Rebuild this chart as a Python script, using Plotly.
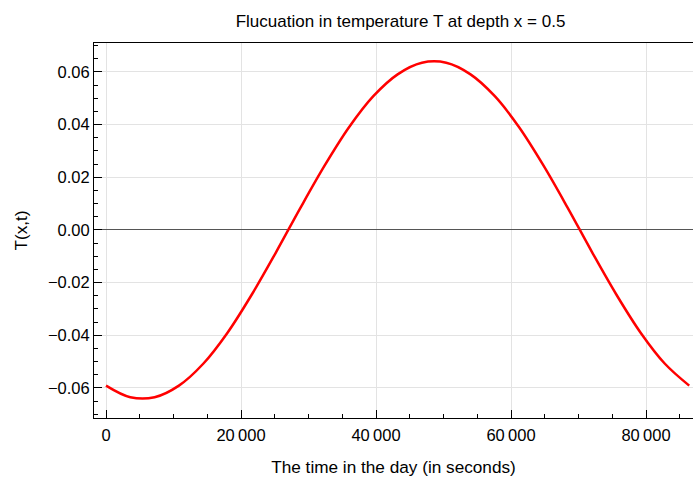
import plotly.graph_objects as go

# time (s) and temperature values
time_s = [0, 3600, 7200, 10800, 14400, 18000, 21600, 25200, 28800, 32400, 36000, 39600,
          43200, 46800, 50400, 54000, 57600, 61200, 64800, 68400, 72000, 75600, 79200,
          82800, 86400]
temp = [-0.0591, -0.0635, -0.0635, -0.0591, -0.0508, -0.0390, -0.0245, -0.0084, 0.0084,
        0.0245, 0.0390, 0.0508, 0.0591, 0.0635, 0.0635, 0.0591, 0.0508, 0.0390, 0.0245,
        0.0084, -0.0084, -0.0245, -0.0390, -0.0508, -0.0591]

x_tickvals = [0, 20000, 40000, 60000, 80000]
x_ticktext = ["0", "20\u2009000", "40\u2009000", "60\u2009000", "80\u2009000"]
y_tickvals = [-0.06, -0.04, -0.02, 0.0, 0.02, 0.04, 0.06]
y_ticktext = ["\u22120.06", "\u22120.04", "\u22120.02", "0.00", "0.02", "0.04", "0.06"]

FAM = "Liberation Sans, Arial, sans-serif"
tickfont = dict(family=FAM, size=16.5, color="#000000")
titlefont = dict(family=FAM, size=17.2, color="#000000")

fig = go.Figure()
fig.add_trace(go.Scatter(x=time_s, y=temp, mode="lines",
                         line=dict(color="#ff0000", width=2.5, shape="spline", smoothing=1.0),
                         showlegend=False, hoverinfo="skip"))

fig.update_layout(
    width=693, height=481,
    margin=dict(l=94, r=0, t=43, b=63),
    paper_bgcolor="white", plot_bgcolor="white",
    font=dict(family=FAM, size=14, color="#000"),
    title=dict(text="Flucuation in temperature T at depth x = 0.5",
               x=0.578, xanchor="center", y=0.956, yanchor="middle",
               font=dict(family=FAM, size=17, color="#000")),
    xaxis=dict(range=[-1780, 86960], tickvals=x_tickvals, ticktext=x_ticktext,
               ticks="inside", ticklen=8, tickcolor="#000", tickwidth=1,
               ticklabelstandoff=2,
               minor=dict(ticks="inside", dtick=5000, tick0=0, ticklen=4, tickcolor="#000",
                          showgrid=False),
               showline=True, linecolor="#000", linewidth=1, mirror=True,
               showgrid=True, gridcolor="#e3e3e3", gridwidth=1, zeroline=False,
               title=dict(text="The time in the day (in seconds)", standoff=18, font=titlefont),
               tickfont=tickfont),
    yaxis=dict(range=[-0.0714, 0.071], tickvals=y_tickvals, ticktext=y_ticktext,
               ticks="inside", ticklen=8, tickcolor="#000", tickwidth=1,
               minor=dict(ticks="inside", dtick=0.005, tick0=0, ticklen=4, tickcolor="#000",
                          showgrid=False),
               showline=True, linecolor="#000", linewidth=1,
               showgrid=True, gridcolor="#e3e3e3", gridwidth=1,
               zeroline=True, zerolinecolor="#555555", zerolinewidth=1,
               title=dict(text="T(x,t)", standoff=15, font=titlefont),
               tickfont=tickfont),
)

fig.write_html("out.html")
